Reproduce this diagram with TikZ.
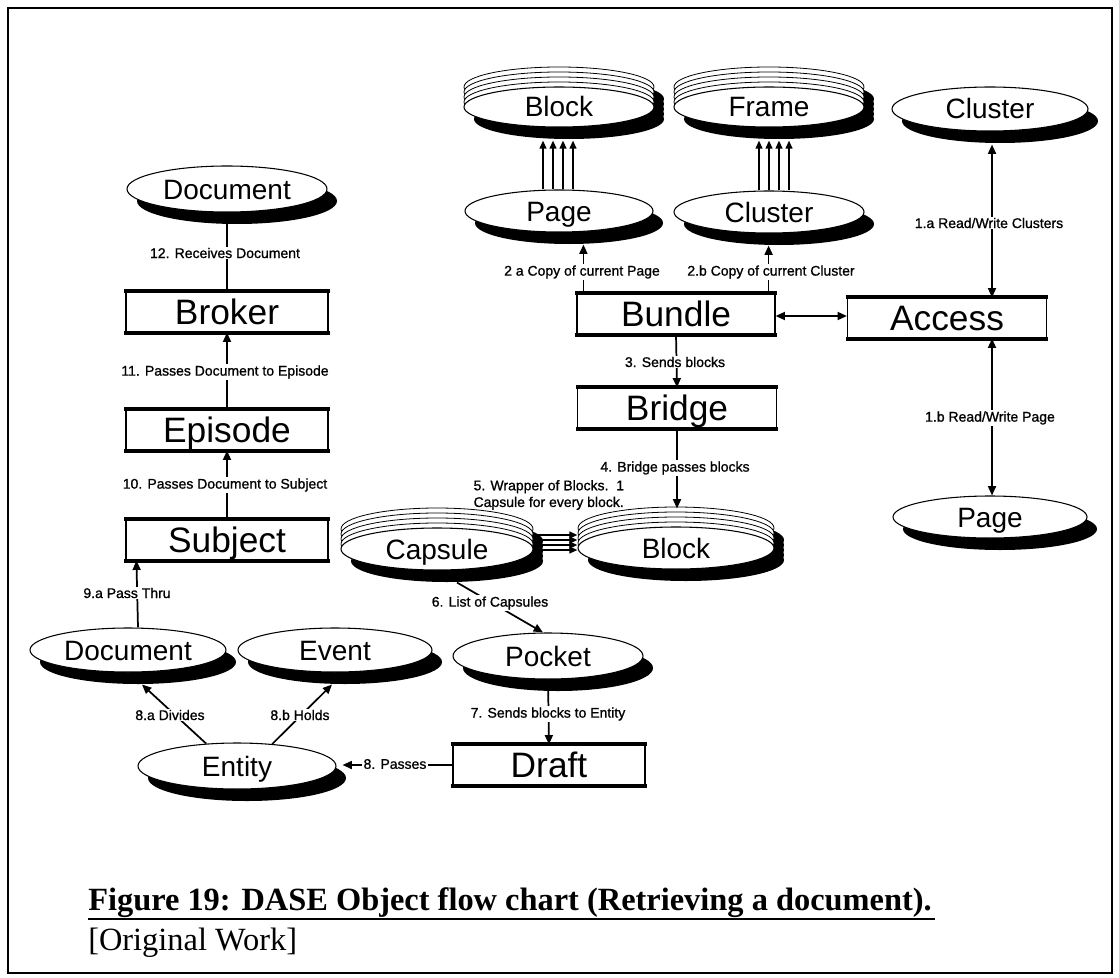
\documentclass[tikz,border=0pt]{standalone}
\usepackage{fontspec}
\setmainfont{Liberation Serif}
\newfontfamily\arialfont{Liberation Sans}
\newfontfamily\lblfont{Liberation Sans}[FakeBold=1]
\usetikzlibrary{shapes.geometric,shadows,calc,arrows.meta}

% object box: thin sides, heavy top and bottom rules
\newcommand\objbox[5]{%
  \node[objbox, minimum width=#4*0.75pt] (#1) at (#2,#3) {#5};
  \draw[line width=3pt] ([xshift=-1pt]#1.north west) -- ([xshift=1pt]#1.north east);
  \draw[line width=3pt] ([xshift=-1pt]#1.south west) -- ([xshift=1pt]#1.south east);
}
% stacked ellipse: four layers behind a shadowed front node
\newcommand\stackell[6]{%
  \foreach \k in {4,3,2,1}
    \fill[black] (#2+10,#3+12-5*\k) ellipse [x radius=#4/2, y radius=#5/2];
  \foreach \k in {4,3,2,1}
    \draw[line width=0.6pt, fill=white] (#2,#3-5*\k) ellipse [x radius=#4/2, y radius=#5/2];
  \node[objell, minimum width=#4*0.75pt, minimum height=#5*0.75pt] (#1) at (#2,#3) {#6};
}

\begin{document}
\begin{tikzpicture}[x=0.75pt,y=-0.75pt,
  conn/.style={line width=1.3pt},
  arr/.style={conn,-{Triangle[length=7pt,width=6pt]}},
  sarr/.style={conn,-{Triangle[length=6pt,width=5pt]}},
  darr/.style={conn,{Triangle[length=7pt,width=6pt]}-{Triangle[length=7pt,width=6pt]}},
  lbl/.style={font=\lblfont\fontsize{10.5pt}{12.5pt}\selectfont, fill=white, inner sep=1pt},
  objbox/.style={draw, line width=0.9pt, minimum height=30pt, inner sep=0pt, fill=white,
    text height=19pt, text depth=0pt, font=\arialfont\fontsize{26.5pt}{30pt}\selectfont},
  objell/.style={ellipse, draw, line width=0.8pt, fill=white, inner sep=0pt,
    text height=15pt, text depth=0pt, font=\arialfont\fontsize{21pt}{24pt}\selectfont,
    drop shadow={shadow xshift=7.5pt, shadow yshift=-9pt, fill=black, opacity=1}},
  capfont/.style={font=\fontsize{24.3pt}{28pt}\selectfont},
]
\useasboundingbox (0,0) rectangle (1119,977);
\draw[line width=1.5pt] (8,8) rectangle (1112,973);

% ---- left column: Document -> Broker -> Episode -> Subject
\node[objell, minimum width=200*0.75pt, minimum height=46*0.75pt] (docTop) at (227,189) {Document};
\objbox{broker}{227}{312}{202}{Broker}
\objbox{episode}{227}{430}{202}{Episode}
\objbox{subject}{227}{540}{202}{Subject}

% ---- lower left: Document, Event, Entity, Draft, Pocket
\node[objell, minimum width=196*0.75pt, minimum height=44*0.75pt] (docLow) at (128,650) {Document};
\node[objell, minimum width=194*0.75pt, minimum height=44*0.75pt] (event) at (335,650) {Event};
\node[objell, minimum width=198*0.75pt, minimum height=46*0.75pt] (entity) at (237,766) {Entity};
\objbox{draft}{549}{765}{192}{Draft}
\node[objell, minimum width=190*0.75pt, minimum height=46*0.75pt] (pocket) at (548,656) {Pocket};

% ---- middle: Capsule and Block stacks
\stackell{capsule}{437}{549}{192}{42}{Capsule}
\stackell{blockMid}{676}{548}{196}{42}{Block}

% ---- upper right: Bundle, Bridge, Access and their objects
\objbox{bundle}{676}{314}{198}{Bundle}
\objbox{bridge}{677}{408}{199}{Bridge}
\objbox{access}{947}{318}{199}{Access}
\stackell{blockTop}{559}{107}{190}{40}{Block}
\stackell{frameTop}{769}{107}{190}{40}{Frame}
\node[objell, minimum width=188*0.75pt, minimum height=42*0.75pt] (page2) at (559,211) {Page};
\node[objell, minimum width=190*0.75pt, minimum height=42*0.75pt] (clusterMid) at (769,212) {Cluster};
\node[objell, minimum width=196*0.75pt, minimum height=44*0.75pt] (clusterTop) at (990,109) {Cluster};
\node[objell, minimum width=194*0.75pt, minimum height=42*0.75pt] (pageRight) at (990,517) {Page};

% ---- connectors
\draw[conn] (broker.north) -- (docTop.south);
\draw[arr] (episode.north) -- (broker.south);
\draw[arr] (subject.north) -- (episode.south);
\draw[arr] ($(docLow.north)+(10,0)$) -- ($(subject.south west)+(11,0)$);
\draw[arr] (entity.144) -- ($(docLow.south)+(14,12)$);
\draw[arr] (entity.32) -- ($(event.south)+(-3,12)$);
\draw[arr] (draft.west) -- ($(entity.east)+(6,-1)$);
\draw[arr] (pocket.south) -- (draft.north);
\draw[arr] ($(capsule.south)+(20,12)$) -- ($(pocket.north)+(-5,0)$);
\foreach \d in {14,9,4,-1}
  \draw[sarr] ([yshift=\d*0.75pt]capsule.east) -- ([yshift=\d*0.75pt]capsule.east -| blockMid.west);
\draw[arr] (bridge.south) -- ($(bridge.south |- blockMid.north)+(0,-18)$);
\draw[arr] (bundle.south) -- (bridge.north);
\draw[arr] ($(bundle.north west)+(7,0)$) -- ($(bundle.north west |- page2.south)+(7,12)$);
\draw[arr] ($(bundle.north east)+(-7,0)$) -- ($(bundle.north east |- clusterMid.south)+(-7,12)$);
\foreach \d in {-16,-6,4,14}
  \draw[sarr] ($(page2.north)+(\d,0)$) -- ($(blockTop.south)+(\d,13)$);
\foreach \d in {-10,0,10,20}
  \draw[sarr] ($(clusterMid.north)+(\d,0)$) -- ($(frameTop.south)+(\d,13)$);
\draw[darr] ([yshift=-1.5pt]bundle.east) -- ([yshift=-1.5pt]bundle.east -| access.west);
\draw[darr] ($(clusterTop.south)+(2,13)$) -- ($(access.north -| clusterTop.south)+(2,0)$);
\draw[darr] ($(access.south -| pageRight.north)+(2,0)$) -- ($(pageRight.north)+(2,0)$);

% ---- connector labels
\node[lbl] (l12) at (225,253) {12. Receives Document};
\node[lbl] (l11) at (225,372) {11. Passes Document to Episode};
\node[lbl] (l10) at (225,485) {10. Passes Document to Subject};
\node[lbl] (l9a) at (127,593) {9.a Pass Thru};
\node[lbl] (l8a) at (170,715) {8.a Divides};
\node[lbl] (l8b) at (300,715) {8.b Holds};
\node[lbl] (l8) at (395,764) {8. Passes};
\node[lbl] (l7) at (548,714) {7. Sends blocks to Entity};
\node[lbl] (l6) at (490,603) {6. List of Capsules};
\node[lbl, align=left, anchor=west, fill=none] (l5) at (472,495) {5. Wrapper of Blocks.~~1\\Capsule for every block.};
\node[lbl] (l4) at (675,468) {4. Bridge passes blocks};
\node[lbl] (l3) at (675,362) {3. Sends blocks};
\node[lbl] (l2a) at (582,272) {2 a Copy of current Page};
\node[lbl] (l2b) at (771,272) {2.b Copy of current Cluster};
\node[lbl] (l1a) at (989,223) {1.a Read/Write Clusters};
\node[lbl] (l1b) at (990,418) {1.b Read/Write Page};

% ---- caption
\node[capfont, anchor=base west, inner sep=0pt] (cap) at (88,910) {\bfseries Figure 19: DASE Object flow chart (Retrieving a document).};
\draw[line width=1.5pt] ($(cap.base west)+(0,9)$) -- ($(cap.base east)+(3,9)$);
\node[capfont, anchor=base west, inner sep=0pt] (src) at (88,950) {[Original Work]};
\end{tikzpicture}
\end{document}
